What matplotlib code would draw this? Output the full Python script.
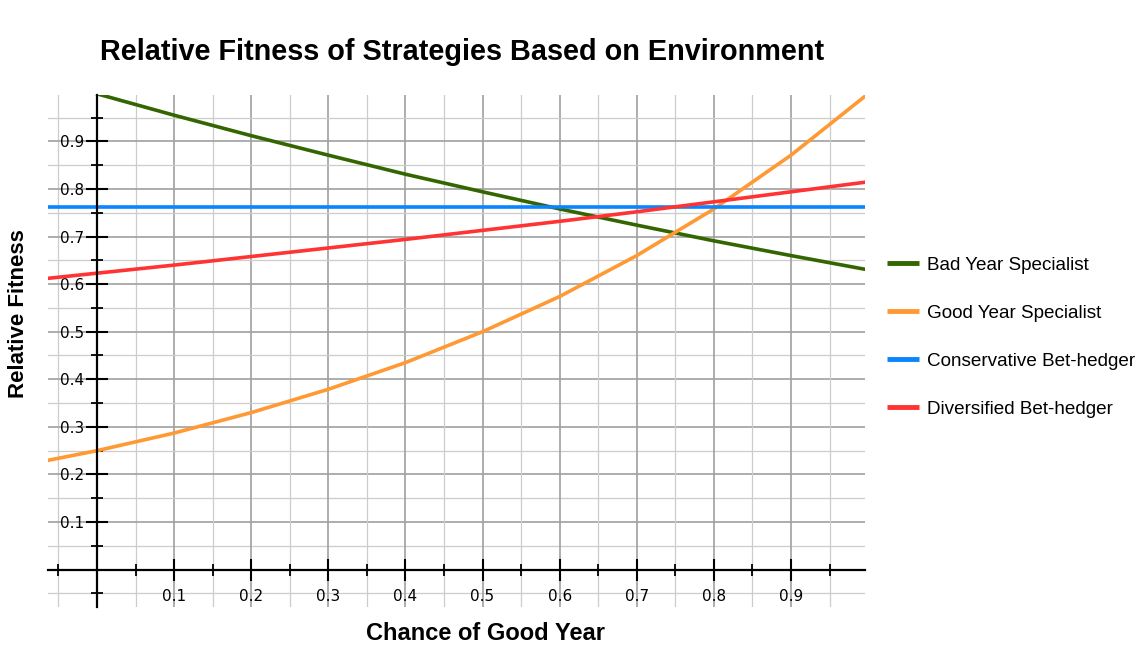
import numpy as np
import matplotlib.pyplot as plt
from matplotlib.ticker import FixedLocator

# values
chance = [-0.1, 0.0, 0.1, 0.2, 0.3, 0.4, 0.5, 0.6, 0.7, 0.8, 0.9, 1.0]
bad_year = [1.047, 1.0, 0.955, 0.912, 0.871, 0.831, 0.794, 0.758, 0.724, 0.691, 0.660, 0.630]
good_year = [0.218, 0.250, 0.287, 0.330, 0.379, 0.435, 0.500, 0.574, 0.660, 0.758, 0.871, 1.000]
conservative = [0.763] * len(chance)
diversified = [0.606, 0.623, 0.640, 0.658, 0.676, 0.694, 0.713, 0.732, 0.752, 0.773, 0.794, 0.815]

series = [
    ("Bad Year Specialist", bad_year, "#336600"),
    ("Good Year Specialist", good_year, "#ff9933"),
    ("Conservative Bet-hedger", conservative, "#0a84ff"),
    ("Diversified Bet-hedger", diversified, "#ff3333"),
]

W, H = 1142, 655
fig = plt.figure(figsize=(W / 100, H / 100), dpi=100)
# axes box in pixels: left 48, right 865, top 95, bottom 607
ax = fig.add_axes([48 / W, 1 - 607 / H, (865 - 48) / W, (607 - 95) / H])

for name, vals, col in series:
    ax.plot(chance, vals, color=col, lw=2.6, label=name, solid_capstyle='butt')

ax.set_xlim(-0.0636, 0.996)
ax.set_ylim(-0.0786, 0.9975)

# axes through the origin
for s in ['top', 'right']:
    ax.spines[s].set_visible(False)
ax.spines['left'].set_position(('data', 0))
ax.spines['bottom'].set_position(('data', 0))
ax.spines['left'].set_linewidth(1.6)
ax.spines['bottom'].set_linewidth(1.6)

major = [0.1 * i for i in range(1, 10)]
minor = [-0.05] + [0.05 + 0.1 * i for i in range(10)]
ax.xaxis.set_major_locator(FixedLocator(major))
ax.yaxis.set_major_locator(FixedLocator(major))
ax.xaxis.set_minor_locator(FixedLocator(minor))
ax.yaxis.set_minor_locator(FixedLocator(minor))
ax.set_xticklabels([f"{v:.1f}" for v in major])
ax.set_yticklabels([f"{v:.1f}" for v in major])

ax.tick_params(which='major', direction='inout', length=16, width=1.5, labelsize=11, pad=1)
ax.tick_params(axis='x', which='major', pad=6)
ax.tick_params(which='minor', direction='inout', length=8, width=1.3)

# grid: major and minor
gx = np.arange(-0.05, 1.0, 0.05)
for v in gx:
    is_major = abs(round(v * 10) - v * 10) < 1e-6
    c = '#a0a0a0' if is_major else '#cccccc'
    w = 1.2 if is_major else 0.9
    ax.axvline(v, color=c, lw=w, zorder=0)
    ax.axhline(v, color=c, lw=w, zorder=0)

fig.text(462 / W, 1 - 52 / H, "Relative Fitness of Strategies Based on Environment",
         ha='center', va='center', fontsize=20.8, fontweight='bold', family='Liberation Sans')
fig.text(486 / W, 1 - 633 / H, "Chance of Good Year",
         ha='center', va='center', fontsize=17, fontweight='bold', family='Liberation Sans')
fig.text(19 / W, 1 - 314 / H, "Relative Fitness", rotation=90,
         ha='center', va='center', fontsize=16, fontweight='bold', family='Liberation Sans')

leg = fig.legend(loc='center left', bbox_to_anchor=(887 / W, 1 - 337 / H), frameon=False,
                 borderpad=0, borderaxespad=0,
                 prop={'family': 'Liberation Sans', 'size': 13.6}, labelspacing=1.63,
                 handlelength=1.7, handletextpad=0.4)
for h in leg.get_lines():
    h.set_linewidth(3.5)

fig.savefig("out.png", dpi=100)
